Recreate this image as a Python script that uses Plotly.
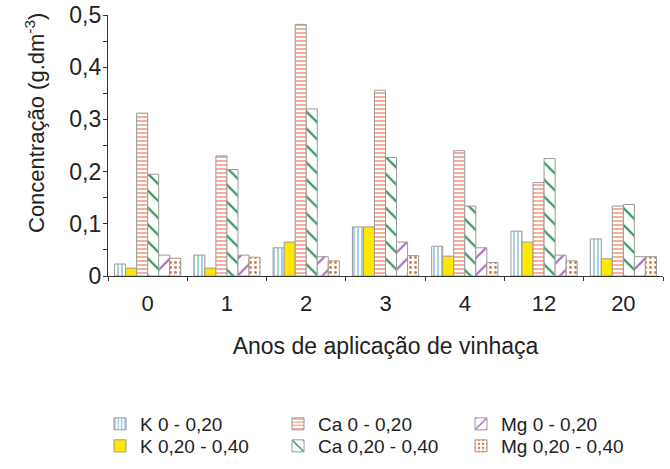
import plotly.graph_objects as go

# Years of vinasse application (categories on the x axis)
anos = ["0", "1", "2", "3", "4", "12", "20"]

# Concentrations (g.dm-3) per nutrient and soil depth
k_0_20 = [0.023, 0.040, 0.054, 0.094, 0.057, 0.086, 0.071]
k_20_40 = [0.015, 0.015, 0.065, 0.094, 0.038, 0.065, 0.033]
ca_0_20 = [0.312, 0.230, 0.482, 0.356, 0.240, 0.179, 0.134]
ca_20_40 = [0.195, 0.204, 0.320, 0.227, 0.134, 0.225, 0.137]
mg_0_20 = [0.040, 0.040, 0.037, 0.065, 0.054, 0.040, 0.037]
mg_20_40 = [0.034, 0.036, 0.029, 0.039, 0.026, 0.029, 0.037]

nomes = ["K 0 - 0,20", "K 0,20 - 0,40", "Ca 0 - 0,20",
         "Ca 0,20 - 0,40", "Mg 0 - 0,20", "Mg 0,20 - 0,40"]
series = [k_0_20, k_20_40, ca_0_20, ca_20_40, mg_0_20, mg_20_40]

FONT = "Liberation Sans, Arial, sans-serif"
W, H = 670, 469

# fill style per series: (bg color, pattern shape, pattern color, size, solidity)
estilos = [
    ("white", "|", "#9fcbe0", 4, 0.45),
    ("#ffe800", "", None, None, None),
    ("white", "-", "#f29c86", 4, 0.4),
    ("white", "\\", "#2a955a", 12, 0.18),
    ("white", "/", "#9a5ab8", 12, 0.16),
    ("white", ".", "#d47a45", 5, 0.28),
]

# legend placement (pixels: text left edge, row center)
col_x = [140, 318, 501]
row_y = [424, 446]
leg_pos = [(col_x[0], row_y[0]), (col_x[0], row_y[1]),
           (col_x[1], row_y[0]), (col_x[1], row_y[1]),
           (col_x[2], row_y[0]), (col_x[2], row_y[1])]

fig = go.Figure()
for i, (nome, vals, est) in enumerate(zip(nomes, series, estilos)):
    bg, shape, fg, size, sol = est
    marker = dict(color=bg, line=dict(color="#9a9a9a", width=1))
    if shape:
        marker["pattern"] = dict(shape=shape, fgcolor=fg, bgcolor=bg,
                                 size=size, solidity=sol, fillmode="replace")
    leg = "legend" if i == 0 else f"legend{i+1}"
    fig.add_trace(go.Bar(x=anos, y=vals, name=nome, marker=marker, legend=leg))

legends = {}
for i, (px, py) in enumerate(leg_pos):
    key = "legend" if i == 0 else f"legend{i+1}"
    legends[key] = dict(
        xref="container", yref="container",
        x=(px - 40) / W, y=1 - py / H,
        xanchor="left", yanchor="middle",
        font=dict(family=FONT, size=19, color="#222"),
        bgcolor="rgba(0,0,0,0)", borderwidth=0,
    )

fig.update_layout(
    width=W, height=H,
    margin=dict(l=108, r=7, t=15, b=193, autoexpand=False),
    paper_bgcolor="white", plot_bgcolor="white",
    barmode="group", bargap=0.165, bargroupgap=0,
    font=dict(family=FONT, color="#222"),
    showlegend=True,
    **legends,
)

fig.update_xaxes(
    type="category",
    showline=True, linecolor="#333", linewidth=1.3,
    ticks="outside", tickson="boundaries", ticklen=4, tickcolor="#333",
    tickfont=dict(family=FONT, size=22, color="#222"),
    ticklabelstandoff=7,
    showgrid=False, zeroline=False,
    title=dict(text="Anos de aplicação de vinhaça",
               font=dict(family=FONT, size=23, color="#222"), standoff=23),
)

fig.update_yaxes(
    range=[0, 0.5],
    tickvals=[0, 0.1, 0.2, 0.3, 0.4, 0.5],
    ticktext=["0", "0,1", "0,2", "0,3", "0,4", "0,5"],
    showline=True, linecolor="#333", linewidth=1.3,
    ticks="outside", ticklen=4, tickcolor="#333",
    minor=dict(dtick=0.05, tick0=0, ticks="outside", ticklen=4, tickcolor="#333"),
    tickfont=dict(family=FONT, size=23, color="#222"),
    ticklabelstandoff=-3,
    showgrid=False, zeroline=False,
)

fig.add_annotation(
    text="Concentração (g.dm<sup>-3</sup>)",
    textangle=-90, showarrow=False,
    xref="paper", yref="paper",
    x=(35 - 108) / 555, y=(276 - 123) / 261,
    xanchor="center", yanchor="middle",
    font=dict(family=FONT, size=22, color="#222"),
)

fig.write_html("out.html")
